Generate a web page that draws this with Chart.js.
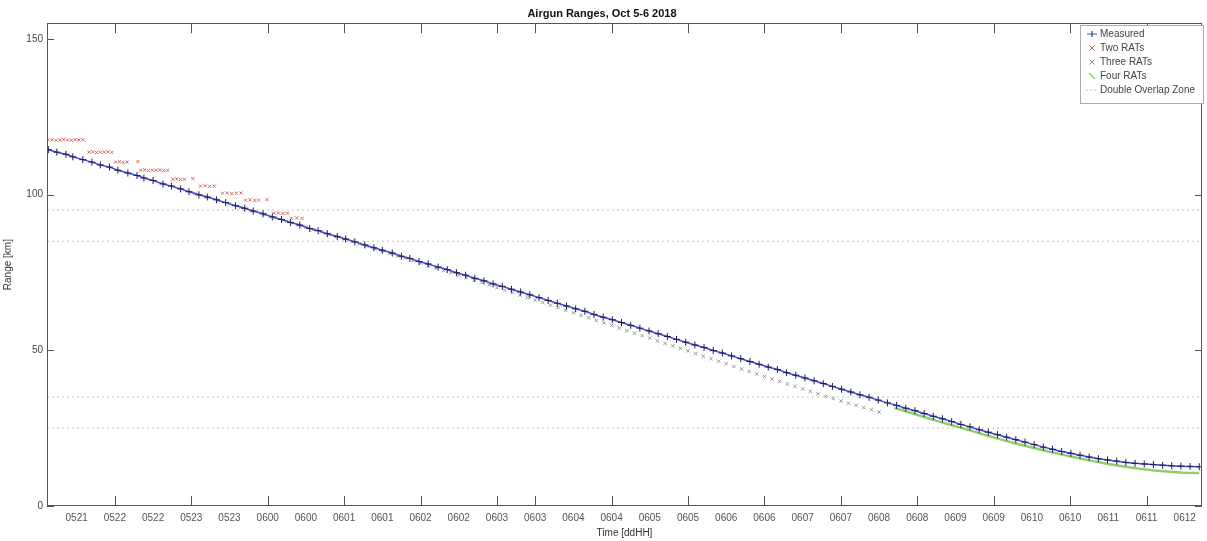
<!DOCTYPE html>
<html><head><meta charset="utf-8">
<script src="https://cdn.jsdelivr.net/npm/chart.js@4.4.0/dist/chart.umd.min.js"></script>
<style>html,body{margin:0;padding:0;background:#fff;} #wrap{width:1207px;height:541px;position:relative;}</style>
</head><body><div id="wrap"><canvas id="c"></canvas></div>
<script>
const TITLE = 'Airgun Ranges, Oct 5-6 2018';
const X_TITLE = 'Time [ddHH]';
const Y_TITLE = 'Range [km]';
const seriesNames = ['Measured', 'Two RATs', 'Three RATs', 'Four RATs', 'Double Overlap Zone'];

// time = hours after 5 Oct 21:00
const measTime = [0.13,0.24,0.36,0.45,0.58,0.70,0.81,0.93,1.04,1.17,1.29,1.38,1.50,1.63,1.74,1.86,1.97,2.10,2.21,2.33,2.45,2.58,2.70,2.81,2.94,3.06,3.18,3.30,3.42,3.55,3.66,3.78,3.91,4.02,4.14,4.27,4.39,4.50,4.63,4.75,4.86,4.98,5.10,5.23,5.35,5.47,5.59,5.71,5.83,5.95,6.07,6.19,6.31,6.43,6.55,6.67,6.79,6.91,7.03,7.15,7.27,7.39,7.51,7.63,7.75,7.87,7.99,8.11,8.23,8.35,8.47,8.59,8.71,8.83,8.95,9.07,9.19,9.31,9.43,9.55,9.67,9.79,9.91,10.03,10.15,10.27,10.39,10.51,10.63,10.75,10.87,10.99,11.11,11.23,11.35,11.47,11.59,11.71,11.83,11.95,12.07,12.19,12.31,12.43,12.55,12.67,12.79,12.91,13.03,13.15,13.27,13.39,13.51,13.63,13.75,13.87,13.99,14.11,14.23,14.35,14.47,14.59,14.71,14.83,14.95,15.07,15.19];
const measRange = [114.4,113.6,112.9,112.1,111.2,110.4,109.5,108.8,107.8,106.9,106.1,105.3,104.5,103.4,102.7,101.8,100.9,99.9,99.2,98.3,97.4,96.4,95.6,94.7,93.8,92.8,92.0,91.0,90.2,89.1,88.4,87.4,86.5,85.7,84.8,83.8,82.9,82.1,81.2,80.2,79.5,78.5,77.7,76.7,75.9,74.9,74.1,73.1,72.3,71.3,70.5,69.6,68.7,67.8,66.9,66.0,65.1,64.2,63.3,62.5,61.5,60.6,59.8,58.9,58.0,57.1,56.2,55.3,54.4,53.5,52.6,51.7,50.9,49.9,49.1,48.2,47.3,46.4,45.5,44.6,43.8,42.8,42.0,41.1,40.2,39.3,38.4,37.5,36.6,35.7,34.9,34.0,33.1,32.3,31.4,30.6,29.7,28.8,28.0,27.1,26.2,25.4,24.5,23.7,22.9,22.1,21.3,20.5,19.7,18.9,18.2,17.5,16.9,16.3,15.7,15.2,14.8,14.4,14.0,13.7,13.5,13.3,13.1,12.9,12.8,12.7,12.6];

const twoTime = [0.13,0.18,0.23,0.28,0.33,0.38,0.43,0.48,0.53,0.58,0.66,0.71,0.76,0.81,0.86,0.91,0.96,1.01,1.06,1.11,1.16,1.30,1.34,1.39,1.44,1.49,1.54,1.59,1.64,1.69,1.76,1.81,1.86,1.91,2.02,2.12,2.18,2.24,2.30,2.41,2.47,2.53,2.59,2.65,2.71,2.77,2.83,2.88,2.99,3.08,3.14,3.20,3.26,3.31,3.38,3.45];
const twoRange = [117.5,117.6,117.4,117.5,117.7,117.5,117.4,117.6,117.5,117.6,113.6,113.7,113.5,113.6,113.6,113.7,113.5,110.4,110.5,110.3,110.4,110.6,107.8,107.9,107.7,107.8,107.8,107.9,107.7,107.8,104.9,105.0,104.8,104.9,105.1,102.7,102.8,102.6,102.7,100.4,100.5,100.3,100.4,100.5,98.2,98.3,98.1,98.2,98.4,94.0,94.1,93.9,94.0,92.4,92.5,92.3];

const threeTime = [2.05,2.20,2.35,2.50,2.65,2.80,2.95,3.10,3.25,3.40,3.50,3.60,3.70,3.80,3.90,4.00,4.10,4.20,4.30,4.40,4.50,4.60,4.70,4.80,4.90,5.00,5.10,5.20,5.30,5.40,5.50,5.60,5.70,5.80,5.90,6.00,6.10,6.20,6.30,6.40,6.50,6.60,6.70,6.80,6.90,7.00,7.10,7.20,7.30,7.40,7.50,7.60,7.70,7.80,7.90,8.00,8.10,8.20,8.30,8.40,8.50,8.60,8.70,8.80,8.90,9.00,9.10,9.20,9.30,9.40,9.50,9.60,9.70,9.80,9.90,10.00,10.10,10.20,10.30,10.40,10.50,10.60,10.70,10.80,10.90,11.00];
const threeRange = [100.3,99.2,98.1,97.0,95.9,94.8,93.6,92.5,91.4,90.3,89.5,88.7,88.0,87.2,86.5,85.7,85.0,84.2,83.4,82.6,81.9,81.1,80.3,79.6,78.8,78.0,77.2,76.4,75.6,74.9,74.1,73.3,72.5,71.7,70.9,70.1,69.3,68.5,67.7,66.9,66.1,65.3,64.5,63.7,62.8,62.0,61.2,60.4,59.6,58.8,58.0,57.1,56.3,55.5,54.7,53.9,53.0,52.2,51.4,50.6,49.8,48.9,48.1,47.3,46.5,45.7,44.8,44.0,43.2,42.4,41.6,40.8,40.0,39.2,38.4,37.6,36.8,36.0,35.2,34.5,33.7,33.0,32.3,31.6,30.9,30.2];

const fourTime = [11.20,11.40,11.60,11.80,12.00,12.20,12.40,12.60,12.80,13.00,13.20,13.40,13.60,13.80,14.00,14.20,14.40,14.60,14.80,15.00,15.19];
const fourRange = [31.5,30.0,28.5,27.0,25.6,24.2,22.7,21.3,20.0,18.8,17.6,16.5,15.4,14.4,13.5,12.7,12.0,11.4,11.0,10.7,10.6];

const overlapLevels = [95, 85, 35, 25];
const xLimits = [0.112, 15.226];
const yLimits = [0, 155];
const yTicks = [0, 50, 100, 150];
const tickHours = [0.5,1,1.5,2,2.5,3,3.5,4,4.5,5,5.5,6,6.5,7,7.5,8,8.5,9,9.5,10,10.5,11,11.5,12,12.5,13,13.5,14,14.5,15];
const tickLabels = ['0521','0522','0522','0523','0523','0600','0600','0601','0601','0602','0602','0603','0603','0604','0604','0605','0605','0606','0606','0607','0607','0608','0608','0609','0609','0610','0610','0611','0611','0612'];
const tickMarkHours = [1,2,3,4,5,6,6.5,7.5,8.5,9.5,10.5,11.5,12.5,13.5,14.5];

const FONT = "'Liberation Sans', Arial, sans-serif";
const pts = (xs, ys) => xs.map((x, i) => ({x: x, y: ys[i]}));

const datasets = [
  {label: seriesNames[0], data: pts(measTime, measRange), showLine: true, borderColor: '#4a4ad2', borderWidth: 1.5,
   pointStyle: 'cross', pointRadius: 3.5, pointBorderColor: '#1e1e5a', pointBorderWidth: 1, pointBackgroundColor: '#1e1e5a', legendKind: 'cross'},
  {label: seriesNames[1], data: pts(twoTime, twoRange), showLine: false, pointStyle: 'crossRot', pointRadius: 2.2,
   pointBorderColor: '#d25a5a', pointBorderWidth: 0.9, borderColor: '#d25a5a', legendKind: 'x'},
  {label: seriesNames[2], data: pts(threeTime, threeRange), showLine: false, pointStyle: 'crossRot', pointRadius: 2.4,
   pointBorderColor: '#8c8c8c', pointBorderWidth: 0.9, borderColor: '#8c8c8c', legendKind: 'x'},
  {label: seriesNames[3], data: pts(fourTime, fourRange), showLine: true, borderColor: '#8fd06a', borderWidth: 2.5,
   pointRadius: 0, legendKind: 'slash'},
];
overlapLevels.forEach((lv, i) => {
  datasets.push({label: seriesNames[4], data: [{x: xLimits[0], y: lv}, {x: xLimits[1], y: lv}], showLine: true,
    borderColor: '#c4c4c4', borderWidth: 1, borderDash: [2, 3], pointRadius: 0, legendKind: 'line', hideLegend: i > 0});
});

const frame = {
  id: 'frame',
  afterDatasetsDraw(chart) {
    const {ctx, chartArea: a, scales} = chart;
    ctx.save();
    ctx.strokeStyle = '#555';
    ctx.lineWidth = 1;
    ctx.strokeRect(Math.round(a.left) + 0.5, Math.round(a.top) + 0.5, Math.round(a.right - a.left) - 1, Math.round(a.bottom - a.top) - 1);
    ctx.beginPath();
    tickMarkHours.forEach(h => {
      const px = Math.round(scales.x.getPixelForValue(h)) + 0.5;
      ctx.moveTo(px, a.bottom); ctx.lineTo(px, a.bottom - 10);
      ctx.moveTo(px, a.top); ctx.lineTo(px, a.top + 10);
    });
    yTicks.forEach(v => {
      const py = Math.round(scales.y.getPixelForValue(v)) + 0.5;
      ctx.moveTo(a.left, py); ctx.lineTo(a.left + 7, py);
      ctx.moveTo(a.right, py); ctx.lineTo(a.right - 7, py);
    });
    ctx.stroke();
    // legend
    const items = chart.data.datasets.filter(d => !d.hideLegend);
    const bx = 1080, by = 25, bw = 123, rowH = 14;
    const bh = items.length * rowH + 8;
    ctx.fillStyle = '#fff';
    ctx.fillRect(bx, by, bw, bh);
    ctx.strokeStyle = '#aaa';
    ctx.strokeRect(bx + 0.5, by + 0.5, bw, bh);
    ctx.font = '10px ' + FONT;
    ctx.textBaseline = 'middle';
    items.forEach((d, i) => {
      const cy = by + 9 + i * rowH;
      const mx = 1092;
      const col = d.pointBorderColor || d.borderColor;
      ctx.strokeStyle = col;
      ctx.lineWidth = 1;
      ctx.beginPath();
      if (d.legendKind === 'cross') {
        ctx.strokeStyle = d.borderColor; ctx.moveTo(mx - 5, cy); ctx.lineTo(mx + 5, cy); ctx.stroke();
        ctx.beginPath(); ctx.strokeStyle = col; ctx.moveTo(mx, cy - 3); ctx.lineTo(mx, cy + 3);
      } else if (d.legendKind === 'x') {
        ctx.moveTo(mx - 2.5, cy - 2.5); ctx.lineTo(mx + 2.5, cy + 2.5); ctx.moveTo(mx + 2.5, cy - 2.5); ctx.lineTo(mx - 2.5, cy + 2.5);
      } else if (d.legendKind === 'slash') {
        ctx.lineWidth = 1.5; ctx.moveTo(mx - 3, cy - 3); ctx.lineTo(mx + 3, cy + 3);
      } else {
        ctx.setLineDash([2, 2]); ctx.moveTo(mx - 6, cy); ctx.lineTo(mx + 6, cy);
      }
      ctx.stroke();
      ctx.setLineDash([]);
      ctx.fillStyle = '#444';
      ctx.fillText(d.label, 1100, cy);
    });
    ctx.restore();
  }
};

new Chart(document.getElementById('c'), {
  type: 'scatter',
  data: {datasets},
  options: {
    responsive: true, maintainAspectRatio: false, animation: false,
    layout: {padding: {left: 0, right: 3, top: 0, bottom: 0}},
    plugins: {
      legend: {display: false}, tooltip: {enabled: false},
      title: {display: true, text: TITLE, color: '#111', font: {family: FONT, size: 11, weight: 'bold'}, padding: {top: 7, bottom: 3}}
    },
    scales: {
      x: {
        type: 'linear', min: xLimits[0], max: xLimits[1],
        afterBuildTicks: s => { s.ticks = tickHours.map(v => ({value: v})); },
        afterFit: s => { s.height = 35; },
        grid: {display: false, drawTicks: false},
        border: {display: false},
        ticks: {autoSkip: false, maxRotation: 0, padding: 6, color: '#555', font: {family: FONT, size: 10},
                callback: (v, i) => tickLabels[i]},
        title: {display: true, text: X_TITLE, color: '#333', font: {family: FONT, size: 10}, padding: {top: 0, bottom: 2}}
      },
      y: {
        type: 'linear', min: yLimits[0], max: yLimits[1],
        afterBuildTicks: s => { s.ticks = yTicks.map(v => ({value: v})); },
        afterFit: s => { s.width = 47; },
        grid: {display: false, drawTicks: false},
        border: {display: false},
        ticks: {padding: 4, color: '#444', font: {family: FONT, size: 10}},
        title: {display: true, text: Y_TITLE, color: '#333', font: {family: FONT, size: 10}, padding: {top: 2, bottom: 0}}
      }
    }
  },
  plugins: [frame]
});
</script></body></html>
